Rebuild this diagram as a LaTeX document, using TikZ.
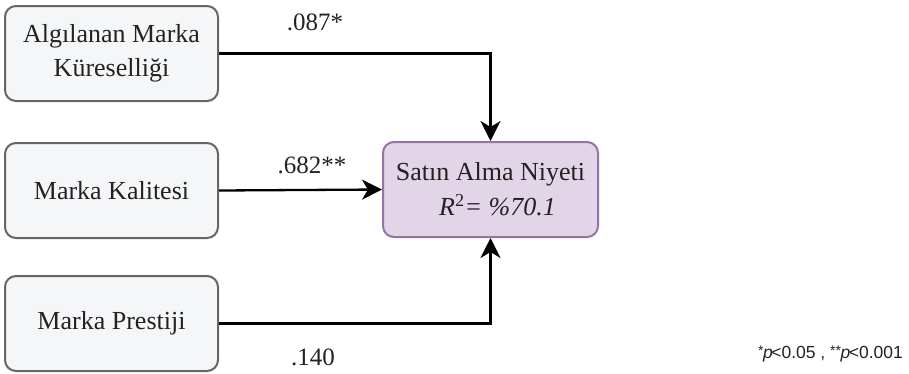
\documentclass[tikz,border=0pt]{standalone}
\usepackage{fontspec}
\setmainfont{Liberation Serif}
\setsansfont{Liberation Sans}
\usetikzlibrary{arrows.meta}
\definecolor{boxfill}{HTML}{F4F6F8}
\definecolor{boxline}{HTML}{666666}
\definecolor{tfill}{HTML}{E3D5E8}
\definecolor{tline}{HTML}{9673A6}
\definecolor{txt}{HTML}{222222}
\newcommand{\fnstar}[1]{{\fontsize{14}{14}\selectfont\raisebox{3pt}{#1}}}
\tikzset{
  srcbox/.style={draw=boxline, fill=boxfill, line width=2pt, rounded corners=11pt,
    minimum width=213pt, minimum height=95pt, align=center, inner sep=0pt, text=txt,
    font=\fontsize{26}{34}\selectfont},
  tgtbox/.style={draw=tline, fill=tfill, line width=2pt, rounded corners=11pt,
    minimum width=215pt, minimum height=95pt, align=center, inner sep=0pt, text=txt,
    font=\fontsize{26}{35}\selectfont},
  conn/.style={line width=2.3pt, -{Stealth[length=20pt,width=20pt,inset=6pt]}},
  coef/.style={font=\fontsize{25}{25}\selectfont, inner sep=0pt, text=txt}
}
\begin{document}
\begin{tikzpicture}[x=1pt,y=-1pt]
\useasboundingbox (0,0) rectangle (909,373);
\node[srcbox] (a) at (111.5,53.5) {Algılanan Marka\\Küreselliği};
\node[srcbox] (b) at (111.5,190.5) {Marka Kalitesi};
\node[srcbox] (c) at (111.5,323.5) {Marka Prestiji};
\node[tgtbox] (t) at (490.5,189.5) {Satın Alma Niyeti\\\hspace*{14pt}\textit{R\textsuperscript{\upshape 2}= \%70.1}};
\draw[conn] (a.east) -| (t.north);
\draw[conn] (b.east) -- (t.west);
\draw[conn] (c.east) -| (t.south);
\node[coef] (la) at (315,22) {.087*};
\node[coef] (lb) at (312,165) {.682**};
\node[coef] (lc) at (313,357) {.140};
\node[font=\sffamily\fontsize{17.5}{17.5}\selectfont, anchor=east, inner sep=0pt, text=txt] (fn) at (903,354)
  {\fnstar{*}\kern-0.5pt\textit{p}\kern-1.5pt<0.05\ ,\ \fnstar{**}\kern-0.5pt\textit{p}\kern-1.5pt<0.001};
\end{tikzpicture}
\end{document}
